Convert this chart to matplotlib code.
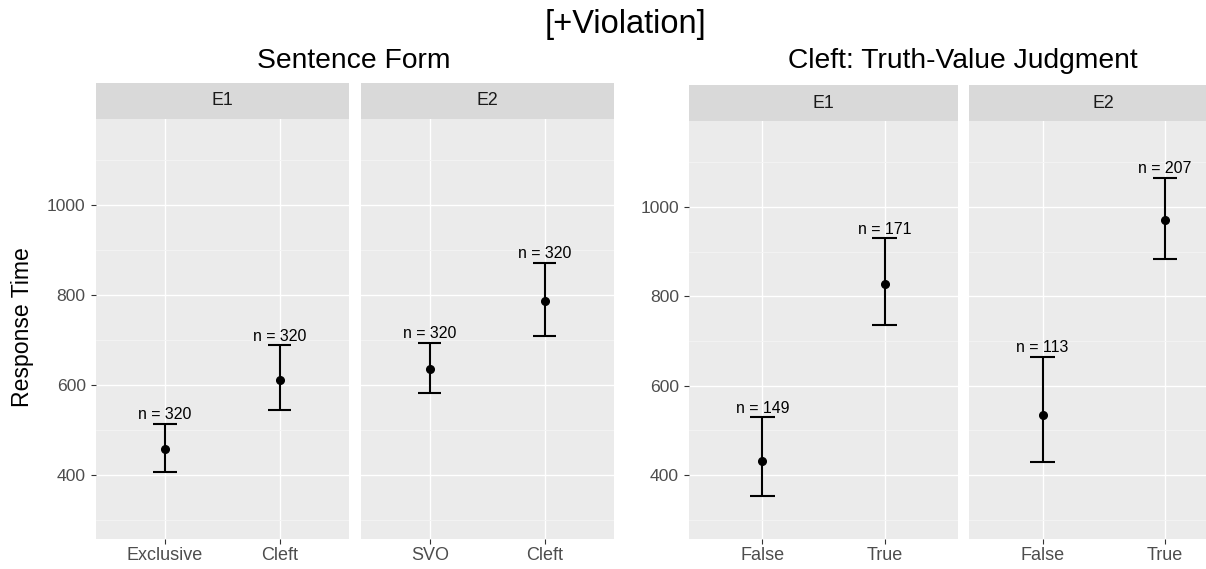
import matplotlib
matplotlib.use('Agg')
import matplotlib.pyplot as plt
import numpy as np

plt.rcParams['font.family'] = ['Liberation Sans', 'DejaVu Sans']

W, H = 1206, 569

# ---------------- data ----------------
sf_e1_cats = ['Exclusive', 'Cleft']
sf_e1_mean = [457, 612]
sf_e1_lo = [407, 544]
sf_e1_hi = [513, 688]
sf_e1_n = [320, 320]

sf_e2_cats = ['SVO', 'Cleft']
sf_e2_mean = [635, 787]
sf_e2_lo = [581, 710]
sf_e2_hi = [693, 872]
sf_e2_n = [320, 320]

tv_e1_cats = ['False', 'True']
tv_e1_mean = [432, 828]
tv_e1_lo = [354, 737]
tv_e1_hi = [529, 930]
tv_e1_n = [149, 171]

tv_e2_cats = ['False', 'True']
tv_e2_mean = [535, 971]
tv_e2_lo = [430, 883]
tv_e2_hi = [665, 1065]
tv_e2_n = [113, 207]

y_major = [400, 600, 800, 1000]
y_minor = [300, 500, 700, 900, 1100]
facets = ['E1', 'E2']
title_main = '[+Violation]'
title_left = 'Sentence Form'
title_right = 'Cleft: Truth-Value Judgment'
ylabel = 'Response Time'

# ---------------- style ----------------
PANEL = '#EBEBEB'
STRIP = '#D9D9D9'
TICKC = '#4D4D4D'
YLIM = (257, 1192)

fig = plt.figure(figsize=(W / 100, H / 100), dpi=100)
fig.patch.set_facecolor('white')


def px_axes(x0, x1, yt, yb, **kw):
    return fig.add_axes([x0 / W, 1 - yb / H, (x1 - x0) / W, (yb - yt) / H], **kw)


def panel(x0, x1, ys, yt, yb, label, cats, mean, lo, hi, ns, show_y):
    ax = px_axes(x0, x1, yt, yb)
    ax.set_facecolor(PANEL)
    for s in ax.spines.values():
        s.set_visible(False)
    xs = np.arange(len(cats)) + 1
    ax.set_xlim(0.4, len(cats) + 0.6)
    ax.set_ylim(*YLIM)
    ax.set_yticks(y_major)
    ax.set_yticks(y_minor, minor=True)
    ax.set_xticks(xs)
    ax.set_xticklabels(cats)
    ax.grid(True, which='major', color='white', lw=1.0)
    ax.grid(True, which='minor', axis='y', color='#F4F4F4', lw=0.6)
    ax.set_axisbelow(True)
    ax.tick_params(axis='x', which='major', length=3.6, width=0.8, color='#333333',
                   labelsize=13, labelcolor=TICKC, pad=1.8)
    ax.tick_params(axis='y', which='minor', length=0)
    if show_y:
        ax.tick_params(axis='y', which='major', length=3.8, width=0.8, color='#333333',
                       labelsize=12.6, labelcolor=TICKC, pad=3.6)
    else:
        ax.tick_params(axis='y', which='major', length=0, labelleft=False)
    ax.vlines(xs, lo, hi, color='black', lw=1.5, zorder=3)
    ax.hlines(lo, xs - 0.1, xs + 0.1, color='black', lw=1.5, zorder=3)
    ax.hlines(hi, xs - 0.1, xs + 0.1, color='black', lw=1.5, zorder=3)
    ax.plot(xs, mean, 'o', color='black', ms=5.5, zorder=4)
    for x, h, n in zip(xs, hi, ns):
        ax.annotate(f'n = {n}', (x, h), xytext=(0, 4.8), textcoords='offset pixels',
                    ha='center', va='baseline', fontsize=11.4, color='black')
    sax = px_axes(x0, x1, ys, yt)
    sax.set_facecolor(STRIP)
    sax.set_xticks([])
    sax.set_yticks([])
    for s in sax.spines.values():
        s.set_visible(False)
    sax.text(0.5, 0.5, label, ha='center', va='center', fontsize=12.8,
             color='#1A1A1A', transform=sax.transAxes)
    return ax


panel(96, 349, 83, 119, 539, facets[0], sf_e1_cats, sf_e1_mean, sf_e1_lo, sf_e1_hi, sf_e1_n, True)
panel(360.7, 614, 83, 119, 539, facets[1], sf_e2_cats, sf_e2_mean, sf_e2_lo, sf_e2_hi, sf_e2_n, False)
panel(689.3, 957.7, 85, 121.3, 539, facets[0], tv_e1_cats, tv_e1_mean, tv_e1_lo, tv_e1_hi, tv_e1_n, True)
panel(969.3, 1238, 85, 121.3, 539, facets[1], tv_e2_cats, tv_e2_mean, tv_e2_lo, tv_e2_hi, tv_e2_n, False)

fig.text(625.5 / W, 1 - 33 / H, title_main, ha='center', va='baseline', fontsize=23.5, color='black')
fig.text(354 / W, 1 - 68.5 / H, title_left, ha='center', va='baseline', fontsize=20.3, color='black')
fig.text(963 / W, 1 - 67.5 / H, title_right, ha='center', va='baseline', fontsize=20.3, color='black')
fig.text(22.5 / W, 1 - 327 / H, ylabel, ha='center', va='center', rotation=90, fontsize=16.6, color='black')

fig.savefig('out.png', dpi=100)
